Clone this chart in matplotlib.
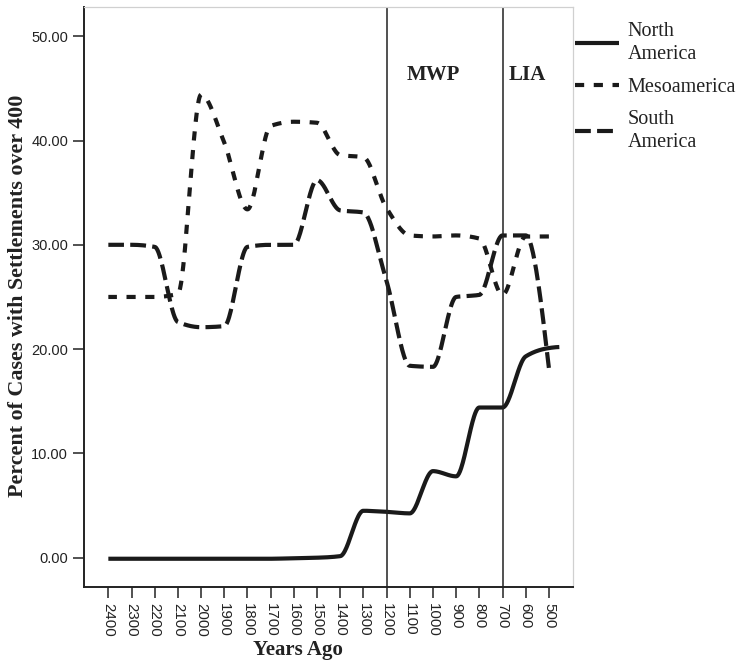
import numpy as np
import matplotlib
matplotlib.use("Agg")
import matplotlib.pyplot as plt

# ---------------- data ----------------
years = [2400, 2300, 2200, 2100, 2000, 1900, 1800, 1700, 1600, 1500,
         1400, 1300, 1200, 1100, 1000, 900, 800, 700, 600, 500]
north_america = [-0.1, -0.1, -0.1, -0.1, -0.1, -0.1, -0.1, -0.1, -0.05, 0.0,
                 0.15, 4.5, 4.4, 4.25, 8.3, 7.8, 14.4, 14.4, 19.3, 20.1]
na_tail_year = [455]
na_tail_value = [20.2]
mesoamerica = [25.0, 25.0, 25.0, 25.3, 44.4, 39.8, 33.4, 41.4, 41.8, 41.7,
               38.6, 38.4, 33.5, 30.9, 30.8, 30.9, 30.6, 25.2, 30.8, 30.8]
south_america = [30.0, 30.0, 29.8, 22.6, 22.1, 22.2, 29.8, 30.0, 30.0, 36.2,
                 33.3, 33.1, 26.5, 18.4, 18.3, 25.0, 25.2, 30.9, 30.9, 18.2]
period_lines = [1200, 700]
period_labels = ["MWP", "LIA"]
period_label_x = [1000, 595]
series_names = ["North\nAmerica", "Mesoamerica", "South\nAmerica"]
y_ticks = [0, 10, 20, 30, 40, 50]
x_ticks = years


def pchip(x, y, xn):
    x = np.asarray(x, float)
    y = np.asarray(y, float)
    o = np.argsort(x)
    x, y = x[o], y[o]
    h = np.diff(x)
    m = np.diff(y) / h
    n = len(x)
    d = np.zeros(n)
    for k in range(1, n - 1):
        if m[k - 1] * m[k] > 0:
            w1 = 2 * h[k] + h[k - 1]
            w2 = h[k] + 2 * h[k - 1]
            d[k] = (w1 + w2) / (w1 / m[k - 1] + w2 / m[k])

    def edge(h0, h1, m0, m1):
        dd = ((2 * h0 + h1) * m0 - h0 * m1) / (h0 + h1)
        if np.sign(dd) != np.sign(m0):
            dd = 0.0
        elif np.sign(m0) != np.sign(m1) and abs(dd) > abs(3 * m0):
            dd = 3 * m0
        return dd

    if n > 2:
        d[0] = edge(h[0], h[1], m[0], m[1])
        d[-1] = edge(h[-1], h[-2], m[-1], m[-2])
    else:
        d[:] = m[0]
    xn = np.asarray(xn, float)
    idx = np.clip(np.searchsorted(x, xn) - 1, 0, n - 2)
    t = (xn - x[idx]) / h[idx]
    h00 = 2 * t**3 - 3 * t**2 + 1
    h10 = t**3 - 2 * t**2 + t
    h01 = -2 * t**3 + 3 * t**2
    h11 = t**3 - t**2
    return h00 * y[idx] + h10 * h[idx] * d[idx] + h01 * y[idx + 1] + h11 * h[idx] * d[idx + 1]


W, H = 746, 663
fig = plt.figure(figsize=(W / 100, H / 100), dpi=100)
ax = fig.add_axes([84 / W, 1 - 586.7 / H, 489 / W, 579.7 / H])

serif = ["Liberation Serif", "DejaVu Serif"]
sans = ["Liberation Sans", "DejaVu Sans"]

lw = 3.0
na_x = years + na_tail_year
na_y = north_america + na_tail_value
xs = np.linspace(min(na_x), max(na_x), 800)
ax.plot(xs, pchip(na_x, na_y, xs), color="#1a1a1a", lw=lw, solid_capstyle="butt",
        label=series_names[0])
xs2 = np.linspace(min(years), max(years), 800)
ax.plot(xs2, pchip(years, mesoamerica, xs2), color="#1a1a1a", lw=lw,
        dashes=(2.2, 2.3), dash_capstyle="butt", label=series_names[1])
ax.plot(xs2, pchip(years, south_america, xs2), color="#1a1a1a", lw=lw,
        dashes=(3.8, 1.5), dash_capstyle="butt", label=series_names[2])

for v in period_lines:
    ax.axvline(v, color="#222222", lw=1.1)
for lab, xv in zip(period_labels, period_label_x):
    ax.text(xv, 46.3, lab, ha="center", va="center", fontsize=15,
            fontweight="bold", family=serif, color="#222222")

ax.set_xlim(2505, 396)
ax.set_ylim(-2.78, 52.8)
ax.set_xticks(x_ticks)
ax.set_xticklabels([str(v) for v in x_ticks], rotation=-90, family=sans,
                   fontsize=10.8, color="#222222")
ax.set_yticks(y_ticks)
ax.set_yticklabels([f"{v:.2f}" for v in y_ticks], family=sans, fontsize=10.5,
                   color="#222222")
ax.tick_params(axis="both", length=8, width=1.1, color="#222222", pad=3.5)

for s in ["top", "right"]:
    ax.spines[s].set_color("#d0d0d0")
    ax.spines[s].set_linewidth(0.9)
for s in ["left", "bottom"]:
    ax.spines[s].set_color("#222222")
    ax.spines[s].set_linewidth(1.4)

fig.text(18 / W, 1 - 296 / H, "Percent of Cases with Settlements over 400",
         rotation=90, ha="center", va="center", fontsize=15.8,
         fontweight="bold", family=serif, color="#222222")
fig.text(298 / W, 1 - 650 / H, "Years Ago", ha="center", va="center",
         fontsize=15, fontweight="bold", family=serif, color="#222222")

handles, labels = ax.get_legend_handles_labels()
leg = fig.legend(handles, labels, loc="upper left",
                 bbox_to_anchor=(575 / W, 1 - 22 / H), frameon=False,
                 prop={"family": serif, "size": 14.5}, handlelength=2.2,
                 handletextpad=0.4, labelspacing=0.65, borderpad=0,
                 borderaxespad=0)
for t in leg.get_texts():
    t.set_color("#222222")
    t.set_linespacing(1.32)

fig.savefig("out.png", dpi=100, facecolor="white")
